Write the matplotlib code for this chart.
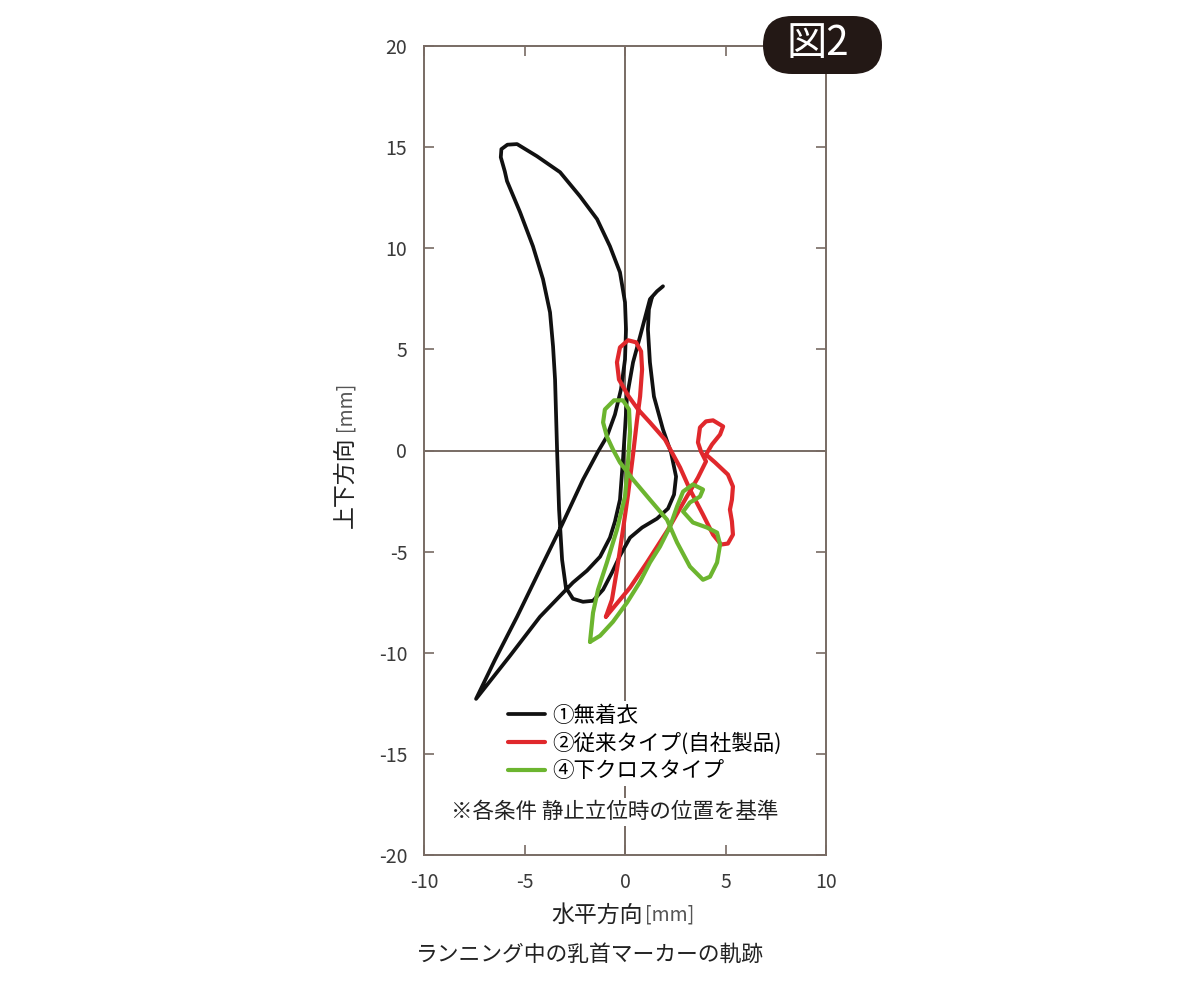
import matplotlib
matplotlib.use('Agg')
import matplotlib.pyplot as plt
from matplotlib.patches import FancyBboxPatch

plt.rcParams['font.family'] = ['Noto Sans CJK JP', 'DejaVu Sans']
plt.rcParams['axes.unicode_minus'] = False

# trajectories [mm]
black_x = [1.89, 1.59, 1.24, 1.00, 0.75, 0.40, 0.10, 0.00, -0.10, -0.25, -0.50,
           -0.75, -1.24, -1.89, -2.59, -4.23, -5.72, -7.41,
           -6.47, -5.37, -4.23, -3.13, -2.09, -1.34, -0.90, -0.50, -0.20, 0.00,
           0.05, 0.00, -0.25, -0.75, -1.39, -2.24, -3.23, -4.38, -5.37, -5.85,
           -6.15, -6.18, -5.98, -5.87, -5.22, -4.58, -4.08, -3.73, -3.58, -3.48,
           -3.38, -3.28, -3.13, -2.94, -2.59, -2.09, -1.59, -1.09, -0.65, -0.25,
           0.25, 0.85, 1.59, 2.14, 2.44, 2.54, 2.29, 1.89, 1.44, 1.24, 1.14, 1.19,
           1.34]
black_y = [8.12, 7.87, 7.48, 6.58, 5.64, 4.36, 2.67, 1.04, -0.45, -2.43, -3.51,
           -4.31, -5.25, -5.94, -6.53, -8.22, -10.15, -12.28,
           -10.35, -8.22, -5.89, -3.66, -1.44, -0.05, 0.69, 1.78, 3.02, 4.50,
           5.99, 7.33, 8.81, 10.10, 11.44, 12.57, 13.76, 14.55, 15.15, 15.12,
           14.90, 14.50, 13.80, 13.32, 11.78, 10.10, 8.47, 6.83, 5.15, 3.51,
           0.05, -2.92, -5.40, -6.78, -7.33, -7.48, -7.43, -6.88, -6.04, -5.20,
           -4.31, -3.81, -3.37, -2.87, -2.18, -1.29, -0.10, 1.04, 2.67, 4.36, 5.99,
           6.98, 7.57]

red_x = [-0.95, -0.45, 0.25, 1.09, 2.14, 2.99, 3.63, 4.03, 3.78, 3.63, 3.73, 4.03,
         4.38, 4.88, 4.73, 4.33, 4.03, 4.48, 5.12, 5.37, 5.32, 5.22, 5.32, 5.37,
         5.12, 4.78, 4.38, 3.88, 3.23, 2.74, 1.99, 1.24, 0.65, 0.15, -0.30, -0.40,
         -0.25, 0.15, 0.55, 0.80, 0.85, 0.75, 0.60, 0.40, 0.15, -0.10, -0.40,
         -0.65, -0.95]
red_y = [-8.22, -7.62, -6.78, -5.54, -3.91, -2.43, -1.34, -0.54, -0.05, 0.40, 1.14,
         1.44, 1.49, 1.19, 0.79, 0.30, -0.20, -0.59, -1.19, -1.78, -2.43, -2.92,
         -3.51, -4.16, -4.60, -4.65, -4.16, -3.17, -1.93, -0.84, 0.54, 1.39, 2.03,
         2.72, 3.51, 4.36, 5.10, 5.45, 5.35, 4.90, 4.01, 2.67, 1.53, -0.20, -2.18,
         -3.91, -5.89, -7.38, -8.22]

green_x = [-1.74, -1.24, -0.60, 0.10, 0.75, 1.24, 1.74, 2.24, 2.59, 2.89, 3.38,
           3.88, 3.73, 3.23, 2.89, 3.38, 4.08, 4.58, 4.73, 4.58, 4.23, 3.88, 3.23,
           2.59, 2.09, 1.24, 0.40, -0.25, -0.60, -0.90, -1.09, -1.00, -0.55, -0.10,
           0.20, 0.25, 0.15, 0.00, -0.40, -0.90, -1.34, -1.59, -1.74]
green_y = [-9.46, -9.16, -8.47, -7.52, -6.49, -5.54, -4.75, -3.76, -2.77, -2.03,
           -1.68, -1.93, -2.28, -2.57, -3.02, -3.56, -3.81, -4.06, -4.65, -5.54,
           -6.24, -6.39, -5.74, -4.55, -3.42, -2.43, -1.44, -0.59, 0.05, 0.69, 1.39,
           2.03, 2.48, 2.48, 2.03, 0.94, -0.59, -2.28, -3.91, -5.54, -6.88, -8.02,
           -9.46]

labels = ['①無着衣', '②従来タイプ(自社製品)', '④下クロスタイプ']
ticks_x = [-10, -5, 0, 5, 10]
ticks_y = [-20, -15, -10, -5, 0, 5, 10, 15, 20]

frame_col = '#786b64'
W, H = 1200, 1002

fig = plt.figure(figsize=(12, 10.02), dpi=100)
ax = fig.add_axes([424 / W, 1 - 855 / H, 402 / W, 809 / H])

ax.axhline(0, color=frame_col, lw=1.4, zorder=1)
ax.axvline(0, color=frame_col, lw=1.4, zorder=1)

ax.plot(black_x, black_y, color='#111111', lw=2.7, label=labels[0],
        solid_joinstyle='round', solid_capstyle='round', zorder=3)
ax.plot(red_x, red_y, color='#e0282c', lw=3.0, label=labels[1],
        solid_joinstyle='round', solid_capstyle='round', zorder=4)
ax.plot(green_x, green_y, color='#6cb52f', lw=3.0, label=labels[2],
        solid_joinstyle='round', solid_capstyle='round', zorder=5)

ax.set_xlim(-10, 10)
ax.set_ylim(-20, 20)
ax.set_xticks(ticks_x)
ax.set_yticks(ticks_y)
for s in ax.spines.values():
    s.set_color(frame_col)
    s.set_linewidth(1.4)
ax.tick_params(direction='in', top=True, right=True, length=7, width=1.2,
               color=frame_col, labelsize=14, labelcolor='#3a3a3a', pad=12)

leg = ax.legend(loc='upper left', bbox_to_anchor=(0.200, 0.190), fontsize=15.5,
                frameon=True, fancybox=False, edgecolor='none', facecolor='white',
                framealpha=1, handlelength=1.75, handletextpad=0.3,
                labelspacing=0.27, borderpad=0.15, borderaxespad=0)
leg.set_zorder(6)

ax.text(0.474, 0.053, '※各条件 静止立位時の位置を基準', transform=ax.transAxes,
        ha='center', va='center', fontsize=15.5, color='#222222', zorder=6,
        bbox=dict(facecolor='white', edgecolor='none', pad=2))

# axis labels, the [mm] part lighter
fig.text(643 / W, 1 - 915 / H, '水平方向', ha='right', va='center',
         fontsize=16.5, color='#222222')
fig.text(645 / W, 1 - 915 / H, '[mm]', ha='left', va='center',
         fontsize=14, color='#555555')
fig.text(345 / W, 1 - 528 / H, '上下方向', ha='center', va='bottom',
         rotation=90, fontsize=16.5, color='#222222')
fig.text(345 / W, 1 - 431 / H, '[mm]', ha='center', va='bottom',
         rotation=90, fontsize=14, color='#555555')

fig.text(590 / W, 1 - 955 / H, 'ランニング中の乳首マーカーの軌跡',
         ha='center', va='center', fontsize=15.7, color='#222222')

# badge
badge = FancyBboxPatch((763, H - 74), 119, 58,
                       boxstyle='round,pad=0,rounding_size=29',
                       transform=None, facecolor='#231815', edgecolor='none',
                       zorder=10)
fig.patches.append(badge)
fig.text(818 / W, 1 - 44 / H, '図2', ha='center', va='center',
         fontsize=29, color='white', zorder=11)

fig.savefig('out.png', dpi=100)
